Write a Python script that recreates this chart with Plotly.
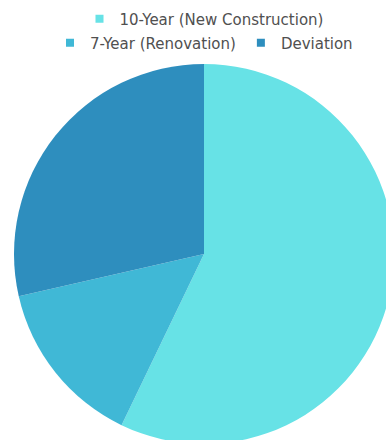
import plotly.graph_objects as go

labels = ["10-Year (New Construction)", "7-Year (Renovation)", "Deviation"]
values = [20, 5, 10]
colors = ["#67E2E6", "#40B8D6", "#2E8EBE"]
legend_rows = ["legend", "legend2", "legend2"]

fig = go.Figure()
fig.add_trace(
    go.Pie(
        labels=labels,
        values=values,
        sort=False,
        direction="clockwise",
        rotation=0,
        textinfo="none",
        hoverinfo="label+value+percent",
        marker=dict(colors=colors, line=dict(width=0)),
        showlegend=False,
    )
)

# legend entries (two centred rows as in the reference)
for lab, col, lg in zip(labels, colors, legend_rows):
    fig.add_trace(
        go.Scatter(
            x=[None], y=[None], mode="markers", name=lab,
            marker=dict(symbol="square", size=8, color=col),
            legend=lg, hoverinfo="skip",
        )
    )

font_family = "DejaVu Sans, Open Sans, sans-serif"
legend_common = dict(
    orientation="h", xanchor="center", x=0.5, yanchor="middle",
    font=dict(family=font_family, size=15, color="#505050"),
    bgcolor="rgba(0,0,0,0)", itemwidth=30,
)

fig.update_layout(
    width=408,
    height=458,
    margin=dict(l=14, r=14, t=64, b=14, autoexpand=False),
    paper_bgcolor="white",
    plot_bgcolor="rgba(0,0,0,0)",
    font=dict(family=font_family, size=15, color="#505050"),
    xaxis=dict(visible=False),
    yaxis=dict(visible=False),
    legend=dict(y=1 + (64 - 19) / 380, **legend_common),
    legend2=dict(y=1 + (64 - 43) / 380, **legend_common),
    showlegend=True,
)

fig.write_html(
    "out.html",
    config={"displayModeBar": False},
    post_script="document.body.style.margin='0';document.body.style.overflow='hidden';document.documentElement.style.overflow='hidden';",
)
